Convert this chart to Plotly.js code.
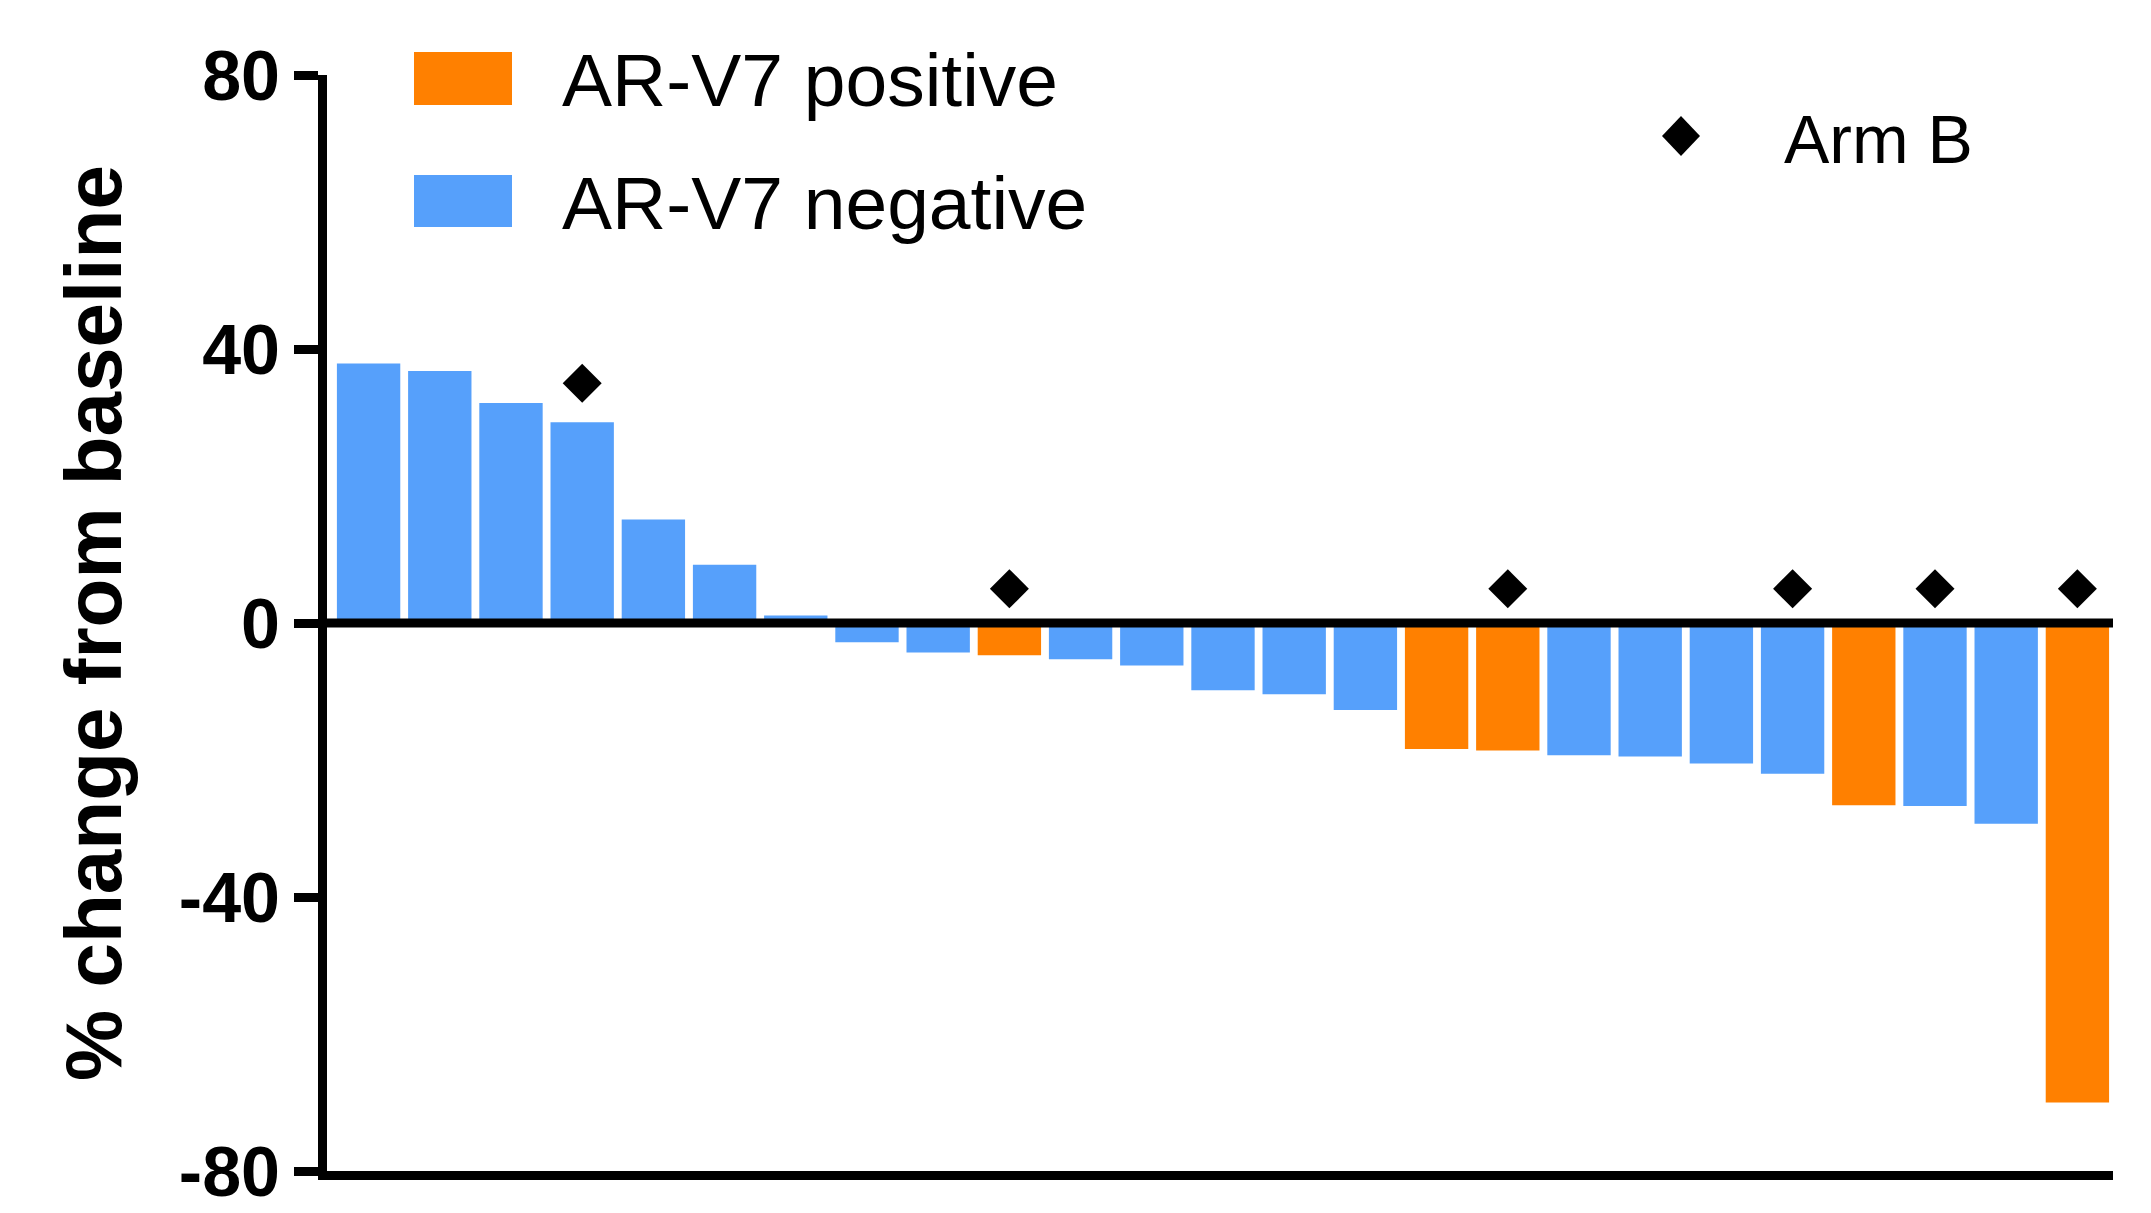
<!DOCTYPE html>
<html>
<head>
<meta charset="utf-8">
<script src="https://cdn.plot.ly/plotly-3.0.1.min.js"></script>
<style>
  html, body { margin: 0; padding: 0; background: #ffffff; }
  #chart { width: 2151px; height: 1213px; }
</style>
</head>
<body>
<div id="chart"></div>
<script>
// ---- data ----
const patients = ["P1","P2","P3","P4","P5","P6","P7","P8","P9","P10","P11","P12","P13",
                  "P14","P15","P16","P17","P18","P19","P20","P21","P22","P23","P24","P25"];
const pctChange = [37.9, 36.8, 32.1, 29.3, 15.1, 8.5, 1.1, -2.8, -4.3, -4.7, -5.3, -6.2, -9.8,
                   -10.4, -12.7, -18.4, -18.6, -19.3, -19.5, -20.5, -22.0, -26.6, -26.7, -29.3, -70.0];
const arv7Status = ["neg","neg","neg","neg","neg","neg","neg","neg","neg","pos","neg","neg","neg",
                    "neg","neg","pos","pos","neg","neg","neg","neg","pos","neg","neg","pos"];
const armBPatients = ["P4","P10","P17","P21","P23","P25"];
const armBMarkerY = [35, 5, 5, 5, 5, 5];
const yTicks = [-80, -40, 0, 40, 80];
const legendLabels = {pos: "AR-V7 positive", neg: "AR-V7 negative", arm: "Arm B"};

// ---- styles ----
const COLORS = {pos: "#FF8000", neg: "#56A0FB"};
const FONT = "'Liberation Sans', Arial, Helvetica, sans-serif";

const barTrace = {
  type: "bar",
  x: patients,
  y: pctChange,
  marker: { color: arv7Status.map(s => COLORS[s]), line: {width: 0} },
  showlegend: false,
  hoverinfo: "x+y"
};

const armBTrace = {
  type: "scatter",
  mode: "markers",
  x: armBPatients,
  y: armBMarkerY,
  marker: { symbol: "diamond", size: 30, color: "#000000", line: {width: 0} },
  showlegend: false,
  cliponaxis: false
};

// plot area geometry (pixels) used to place the hand-made legend
const W = 2151, H = 1213;
const mL = 327, mR = 38, mT = 75, mB = 42;
const pw = W - mL - mR, ph = H - mT - mB;
const px = v => (v - mL) / pw;
const py = v => (H - mB - v) / ph;

const shapes = [
  { type: "line", xref: "paper", yref: "y", x0: 0, x1: 1, y0: 0, y1: 0,
    line: {color: "#000000", width: 9}, layer: "above" },
  { type: "rect", xref: "paper", yref: "paper", x0: px(414), x1: px(512), y0: py(105), y1: py(52),
    fillcolor: COLORS.pos, line: {width: 0} },
  { type: "rect", xref: "paper", yref: "paper", x0: px(414), x1: px(512), y0: py(227), y1: py(175),
    fillcolor: COLORS.neg, line: {width: 0} },
  { type: "path", xref: "paper", yref: "paper", xsizemode: "pixel", ysizemode: "pixel",
    xanchor: px(1681), yanchor: py(136),
    path: "M -19 0 L 0 20 L 19 0 L 0 -20 Z", fillcolor: "#000000", line: {width: 0} }
];

const annotations = [
  { xref: "paper", yref: "paper", x: px(560), y: py(80), xanchor: "left", yanchor: "middle",
    text: legendLabels.pos, showarrow: false, font: {family: FONT, size: 75, color: "#000"} },
  { xref: "paper", yref: "paper", x: px(560), y: py(203), xanchor: "left", yanchor: "middle",
    text: legendLabels.neg, showarrow: false, font: {family: FONT, size: 75, color: "#000"} },
  { xref: "paper", yref: "paper", x: px(1782), y: py(139), xanchor: "left", yanchor: "middle",
    text: legendLabels.arm, showarrow: false, font: {family: FONT, size: 68, color: "#000"} }
];

const layout = {
  width: W, height: H,
  margin: {l: mL, r: mR, t: mT, b: mB, pad: 0},
  paper_bgcolor: "#ffffff", plot_bgcolor: "#ffffff",
  bargap: 0.11,
  showlegend: false,
  font: {family: FONT, color: "#000000"},
  xaxis: {
    type: "category",
    categoryorder: "array", categoryarray: patients,
    range: [-0.584, 24.5],
    showticklabels: false, ticks: "",
    showgrid: false, zeroline: false,
    showline: true, linecolor: "#000000", linewidth: 9
  },
  yaxis: {
    range: [-80, 80],
    tickvals: yTicks, ticktext: yTicks.map(String),
    ticks: "outside", ticklen: 24, tickwidth: 9, tickcolor: "#000000",
    tickfont: {family: FONT, size: 70, color: "#000000", weight: "bold"},
    showgrid: false, zeroline: false,
    showline: true, linecolor: "#000000", linewidth: 9,
    title: { text: "<b>% change from baseline</b>", standoff: 34,
             font: {family: FONT, size: 80, color: "#000000"} }
  },
  shapes: shapes,
  annotations: annotations
};

Plotly.newPlot("chart", [barTrace, armBTrace], layout, {staticPlot: true, displayModeBar: false});
</script>
</body>
</html>
